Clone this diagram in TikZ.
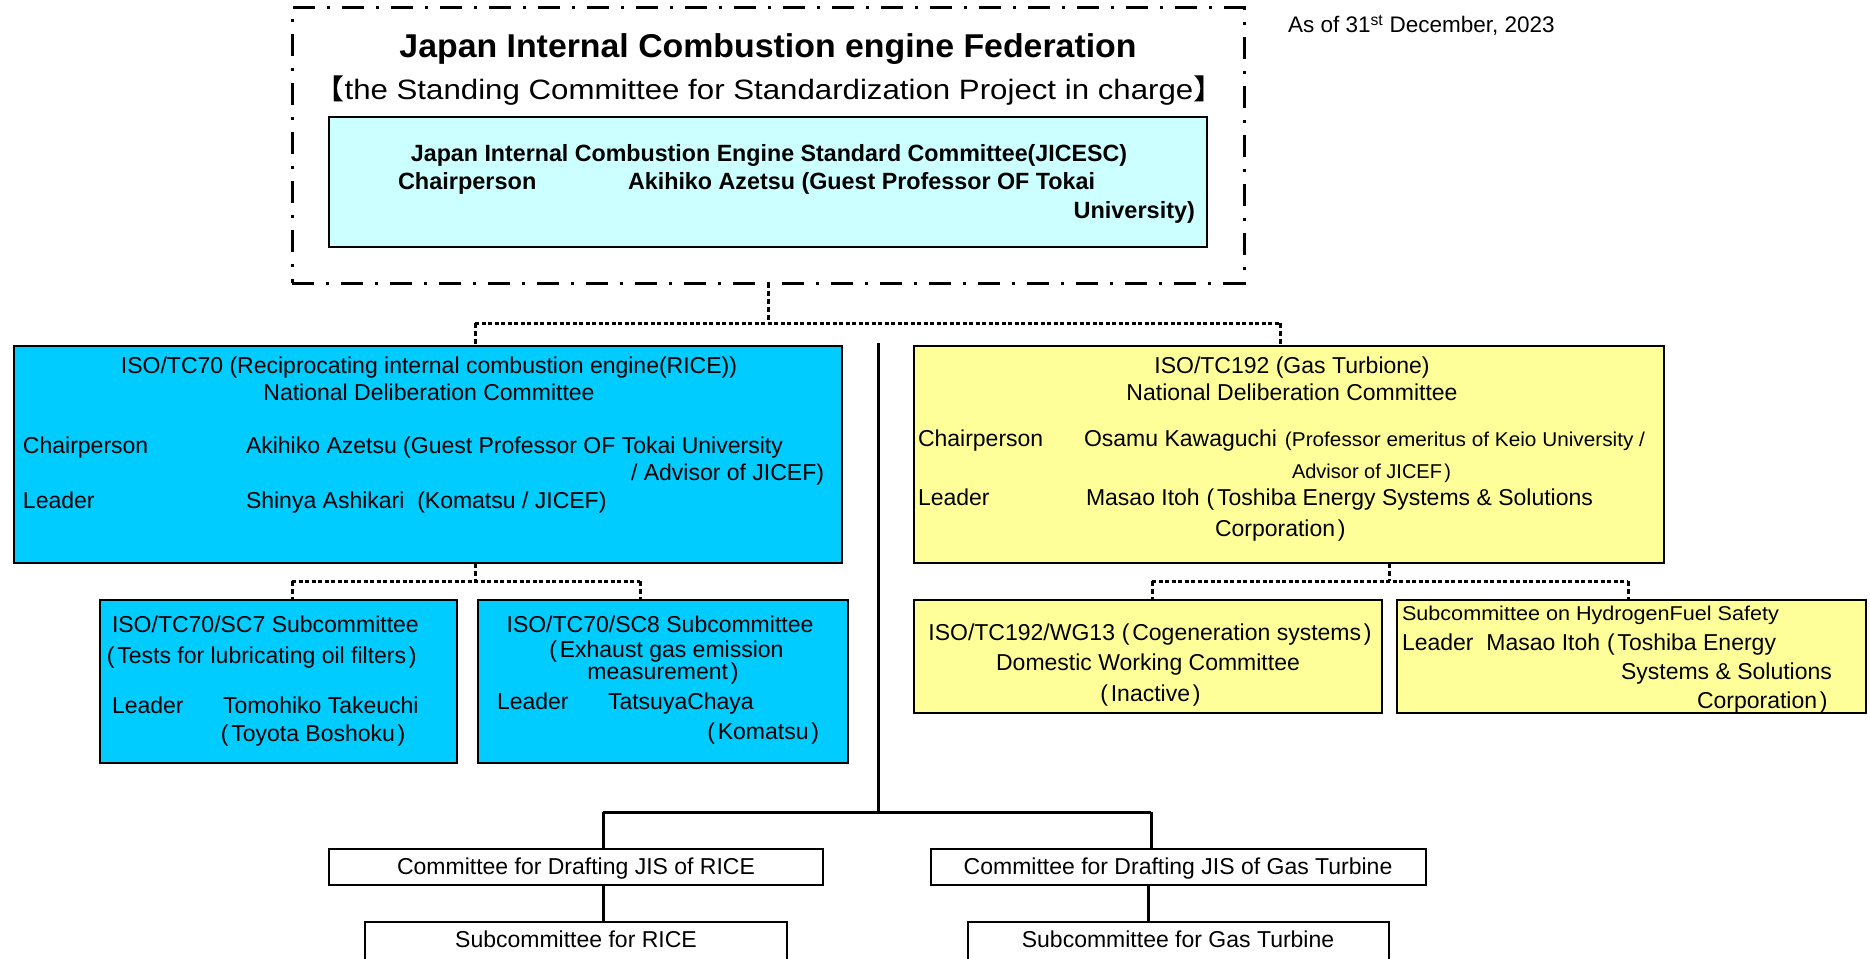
\documentclass[tikz,border=0pt]{standalone}
\usepackage{fontspec}
\usepackage{graphicx}
\setmainfont{Liberation Sans}
\newfontfamily\cjk{Noto Sans CJK JP}
\definecolor{cyanA}{HTML}{00CCFF}
\definecolor{lcyan}{HTML}{CCFFFF}
\definecolor{yel}{HTML}{FFFF99}
\newcommand\fitto[2]{\resizebox{#1}{\height}{#2}}
\newcommand\jlp{\hspace{0.3em}(\hspace{0.12em}}
\newcommand\jrp{\hspace{0.12em})\hspace{0.3em}}
\newcommand\jlbr{\makebox[0.5em][r]{\smash{\cjk 【}}}
\newcommand\jrbr{\makebox[0.5em][l]{\smash{\cjk 】}}}
\begin{document}
\begin{tikzpicture}[x=1pt,y=-1pt,
  box/.style={draw=black, line width=2pt, inner sep=0pt, outer sep=0pt, anchor=north west},
  t/.style={inner sep=0pt, outer sep=0pt, font=\fontsize{23}{27}\selectfont},
  ts/.style={inner sep=0pt, outer sep=0pt, font=\fontsize{20}{23}\selectfont},
  tb/.style={inner sep=0pt, outer sep=0pt, font=\fontsize{23.5}{27}\selectfont\bfseries},
  dv/.style={line width=3pt, dash pattern=on 5pt off 3pt},
  dh/.style={line width=3pt, dash pattern=on 4pt off 2.5pt},
  conn/.style={line width=3pt}]
\useasboundingbox (0,0) rectangle (1870,958);
\clip (0,0) rectangle (1870,958);
% boxes
\node[box, line width=3pt, dash pattern=on 22pt off 12pt on 3pt off 12pt, minimum width=952pt, minimum height=275pt] (outer) at (292,8) {};
\node[box, fill=lcyan, minimum width=878pt, minimum height=130pt] (inner) at (329,117) {};
\node[box, fill=cyanA, minimum width=828pt, minimum height=217pt] (tc70) at (14,346) {};
\node[box, fill=yel, minimum width=750pt, minimum height=217pt] (tc192) at (914,346) {};
\node[box, fill=cyanA, minimum width=357pt, minimum height=163pt] (sc7) at (100,600) {};
\node[box, fill=cyanA, minimum width=370pt, minimum height=163pt] (sc8) at (478,600) {};
\node[box, fill=yel, minimum width=468pt, minimum height=113pt] (wg13) at (914,600) {};
\node[box, fill=yel, minimum width=469pt, minimum height=113pt] (hyd) at (1397,600) {};
\node[box, minimum width=494pt, minimum height=36pt] (jisr) at (329,849) {};
\node[box, minimum width=495pt, minimum height=36pt] (jisg) at (931,849) {};
\node[box, minimum width=422pt, minimum height=80pt] (subr) at (365,922) {};
\node[box, minimum width=421pt, minimum height=80pt] (subg) at (968,922) {};
% dotted connectors
\coordinate (a1) at (768,323);
\coordinate (a2) at (475,323);
\coordinate (a3) at (1280,323);
\draw[dv] (outer.south) -- (a1);
\draw[dh] (a2) -- (a3);
\draw[dv] (a2) -- (a2 |- tc70.north);
\draw[dv] (a3) -- (a3 |- tc192.north);
\coordinate (b0) at (475,581);
\coordinate (b1) at (292,581);
\coordinate (b2) at (640,581);
\draw[dv] (b0 |- tc70.south) -- (b0);
\draw[dh] (b1) -- (b2);
\draw[dv] (b1) -- (b1 |- sc7.north);
\draw[dv] (b2) -- (b2 |- sc8.north);
\coordinate (c0) at (1389,581);
\coordinate (c1) at (1152,581);
\coordinate (c2) at (1628,581);
\draw[dv] (c0 |- tc192.south) -- (c0);
\draw[dh] (c1) -- (c2);
\draw[dv] (c1) -- (c1 |- wg13.north);
\draw[dv] (c2) -- (c2 |- hyd.north);
% solid connectors
\coordinate (v0) at (878,343);
\coordinate (v1) at (878,812);
\coordinate (h1) at (603,812);
\coordinate (h2) at (1151,812);
\coordinate (g1) at (1148,885);
\draw[conn] (v0) -- (v1);
\draw[conn] (h1) -- (h2);
\draw[conn] (h1) -- (h1 |- jisr.north);
\draw[conn] (h2) -- (h2 |- jisg.north);
\draw[conn] (jisr.south -| h1) -- (subr.north -| h1);
\draw[conn] (g1) -- (g1 |- subg.north);
% texts top
\node[t, anchor=mid west, font=\fontsize{22.5}{26}\selectfont] (asof) at (1288,30) {As of 31\textsuperscript{st} December, 2023};
\node[inner sep=0pt, anchor=mid, font=\fontsize{33}{36}\selectfont\bfseries] (title) at (768,55) {\fitto{737pt}{Japan Internal Combustion engine Federation}};
\node[inner sep=0pt, anchor=mid, font=\fontsize{28}{32}\selectfont] (subtitle) at (769,97) {\fitto{880pt}{\jlbr the Standing Committee for Standardization Project in charge\jrbr}};
\node[tb, anchor=mid] (in1) at (769,159) {\fitto{716pt}{Japan Internal Combustion Engine Standard Committee(JICESC)}};
\node[tb, anchor=mid west] (in2) at (398,187) {Chairperson};
\node[tb, anchor=mid west] (in3) at (628,187) {\fitto{467pt}{Akihiko Azetsu (Guest Professor OF Tokai}};
\node[tb, anchor=mid east] (in4) at (1195,216) {University)};
% TC70
\node[t, anchor=mid] (p1) at (429,371) {ISO/TC70 (Reciprocating internal combustion engine(RICE))};
\node[t, anchor=mid] (p2) at (429,398) {National Deliberation Committee};
\node[t, anchor=mid west] (p3) at (23,451) {Chairperson};
\node[t, anchor=mid west] (p4) at (246,451) {Akihiko Azetsu (Guest Professor OF Tokai University};
\node[t, anchor=mid east] (p5) at (824,478) {/ Advisor of JICEF)};
\node[t, anchor=mid west] (p6) at (23,506) {Leader};
\node[t, anchor=mid west] (p7) at (246,506) {Shinya Ashikari\ \ (Komatsu / JICEF)};
% TC192
\node[t, anchor=mid] (q1) at (1292,371) {ISO/TC192 (Gas Turbione)};
\node[t, anchor=mid] (q2) at (1292,398) {National Deliberation Committee};
\node[t, anchor=mid west] (q3) at (918,444) {Chairperson};
\node[t, anchor=mid west] (q4) at (1084,444) {Osamu Kawaguchi};
\node[ts, anchor=mid east] (q5) at (1645,444) {\fitto{360pt}{(Professor emeritus of Keio University /}};
\node[ts, anchor=mid west] (q6) at (1292,476) {Advisor of JICEF\jrp};
\node[t, anchor=mid west] (q7) at (918,503) {Leader};
\node[t, anchor=mid west] (q8) at (1086,503) {Masao Itoh\jlp Toshiba Energy Systems \& Solutions};
\node[t, anchor=mid west] (q9) at (1215,534) {Corporation\jrp};
% SC7
\node[t, anchor=mid west] (r1) at (112,630) {ISO/TC70/SC7 Subcommittee};
\node[t, anchor=mid west] (r2) at (100,661) {\jlp Tests for lubricating oil filters\jrp};
\node[t, anchor=mid west] (r3) at (112,711) {Leader};
\node[t, anchor=mid west] (r4) at (223,711) {Tomohiko Takeuchi};
\node[t, anchor=mid west] (r5) at (214,739) {\jlp Toyota Boshoku\jrp};
% SC8
\node[t, anchor=mid] (s1) at (660,630) {ISO/TC70/SC8 Subcommittee};
\node[t, anchor=mid] (s2) at (663,655) {\jlp Exhaust gas emission};
\node[t, anchor=mid] (s3) at (663,677) {measurement\jrp};
\node[t, anchor=mid west] (s4) at (497,707) {Leader};
\node[t, anchor=mid west] (s5) at (608,707) {TatsuyaChaya};
\node[t, anchor=mid east] (s6) at (819,737) {\jlp Komatsu\jrp};
% WG13
\node[t, anchor=mid] (w1) at (1150,638) {ISO/TC192/WG13\jlp Cogeneration systems\jrp};
\node[t, anchor=mid] (w2) at (1148,668) {Domestic Working Committee};
\node[t, anchor=mid] (w3) at (1147,699) {\jlp Inactive\jrp};
% Hydrogen
\node[ts, anchor=mid west] (y1) at (1402,618) {\fitto{377pt}{Subcommittee on HydrogenFuel Safety}};
\node[t, anchor=mid west] (y2) at (1402,648) {Leader\ \ Masao Itoh\jlp Toshiba Energy};
\node[t, anchor=mid west] (y3) at (1621,677) {Systems \& Solutions};
\node[t, anchor=mid west] (y4) at (1697,706) {Corporation\jrp};
% bottom
\node[t, anchor=mid] (jisrt) at (576,872) {Committee for Drafting JIS of RICE};
\node[t, anchor=mid] (jisgt) at (1178,872) {Committee for Drafting JIS of Gas Turbine};
\node[t, anchor=mid] (subrt) at (576,945) {Subcommittee for RICE};
\node[t, anchor=mid] (subgt) at (1178,945) {Subcommittee for Gas Turbine};
\end{tikzpicture}
\end{document}
